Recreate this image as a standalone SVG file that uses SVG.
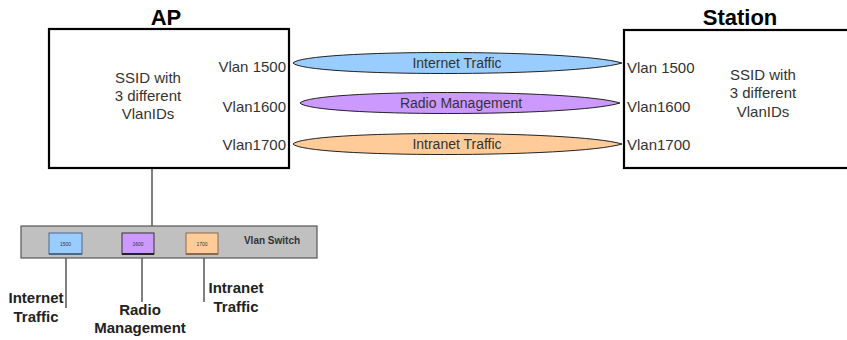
<svg xmlns="http://www.w3.org/2000/svg" width="847" height="340" viewBox="0 0 847 340">
<style>
.box{fill:#fff;stroke:#000;stroke-width:2.2}
.title{font-family:"Liberation Sans",Arial,sans-serif;font-weight:bold;font-size:22px;fill:#000;text-anchor:middle}
.t{font-family:"Liberation Sans",Arial,sans-serif;font-size:15px;fill:#333}
.c{text-anchor:middle}
.r{text-anchor:end}
.lens{stroke:#222;stroke-width:1}
.lbl{font-family:"Liberation Sans",Arial,sans-serif;font-size:14px;fill:#333;text-anchor:middle}
.bl{font-family:"Liberation Sans",Arial,sans-serif;font-weight:bold;font-size:15px;fill:#222;text-anchor:middle}
.wire{stroke:#808080;stroke-width:2;fill:none}
.tiny{font-family:"Liberation Sans",Arial,sans-serif;font-size:5px;fill:#333;text-anchor:middle}
</style>
<rect width="847" height="340" fill="#fff"/>
<g id="connectors">
<line class="wire" x1="152" y1="168" x2="152" y2="226"/>
<line class="wire" x1="66" y1="254" x2="66" y2="308"/>
<line class="wire" x1="142" y1="254" x2="142" y2="302"/>
<line class="wire" x1="204" y1="254" x2="204" y2="302"/>
</g>
<g id="ap">
<text class="title" x="166" y="25">AP</text>
<rect class="box" x="49" y="29" width="240" height="139"/>
<text class="t c" x="148" y="83">SSID with</text>
<text class="t c" x="148" y="101">3 different</text>
<text class="t c" x="148" y="119">VlanIDs</text>
<text class="t r" x="286" y="72">Vlan 1500</text>
<text class="t r" x="286" y="112">Vlan1600</text>
<text class="t r" x="286" y="150">Vlan1700</text>
</g>
<g id="station">
<text class="title" x="740" y="25">Station</text>
<rect class="box" x="624" y="30" width="240" height="138"/>
<text class="t c" x="763" y="80">SSID with</text>
<text class="t c" x="763" y="98">3 different</text>
<text class="t c" x="763" y="117">VlanIDs</text>
<text class="t" x="627" y="73">Vlan 1500</text>
<text class="t" x="627" y="112">Vlan1600</text>
<text class="t" x="627" y="150">Vlan1700</text>
</g>
<g id="internet-traffic">
<path class="lens" fill="#99CCFF" d="M293,63 C305,49 575,49 622,63 C575,77 305,77 293,63 Z"/>
<text class="lbl" x="457" y="68">Internet Traffic</text>
</g>
<g id="radio-management">
<path class="lens" fill="#CC99FF" d="M300,103 C312,89 575,89 620,103 C575,117 312,117 300,103 Z"/>
<text class="lbl" x="461" y="108">Radio Management</text>
</g>
<g id="intranet-traffic">
<path class="lens" fill="#FFCC99" d="M293,144 C305,130 575,130 622,144 C575,158 305,158 293,144 Z"/>
<text class="lbl" x="457" y="149">Intranet Traffic</text>
</g>
<g id="vlan-switch">
<rect x="21" y="226" width="296" height="32" fill="#C0C0C0" stroke="#555" stroke-width="1.2"/>
<rect x="49" y="233" width="33" height="21" fill="#99CCFF" stroke="#4a6a8a" stroke-width="1"/>
<line x1="49" y1="254" x2="82" y2="254" stroke="#4a6a8a" stroke-width="2"/>
<text class="tiny" x="65.5" y="245.5">1500</text>
<rect x="122" y="233" width="32" height="21" fill="#CC99FF" stroke="#333" stroke-width="1"/>
<line x1="122" y1="254" x2="154" y2="254" stroke="#222" stroke-width="2"/>
<text class="tiny" x="138" y="245.5">1600</text>
<rect x="186" y="233" width="32" height="21" fill="#FFCC99" stroke="#8a6a4a" stroke-width="1"/>
<line x1="186" y1="254" x2="218" y2="254" stroke="#8a6a4a" stroke-width="2"/>
<text class="tiny" x="202" y="245.5">1700</text>
<text x="272" y="244" font-family="Liberation Sans, Arial, sans-serif" font-weight="bold" font-size="10px" fill="#333" text-anchor="middle">Vlan Switch</text>
</g>
<g id="label-internet">
<text class="bl" x="36" y="303">Internet</text>
<text class="bl" x="36" y="322">Traffic</text>
</g>
<g id="label-radio">
<text class="bl" x="140" y="315">Radio</text>
<text class="bl" x="140" y="333">Management</text>
</g>
<g id="label-intranet">
<text class="bl" x="236" y="293">Intranet</text>
<text class="bl" x="236" y="312">Traffic</text>
</g>
</svg>
